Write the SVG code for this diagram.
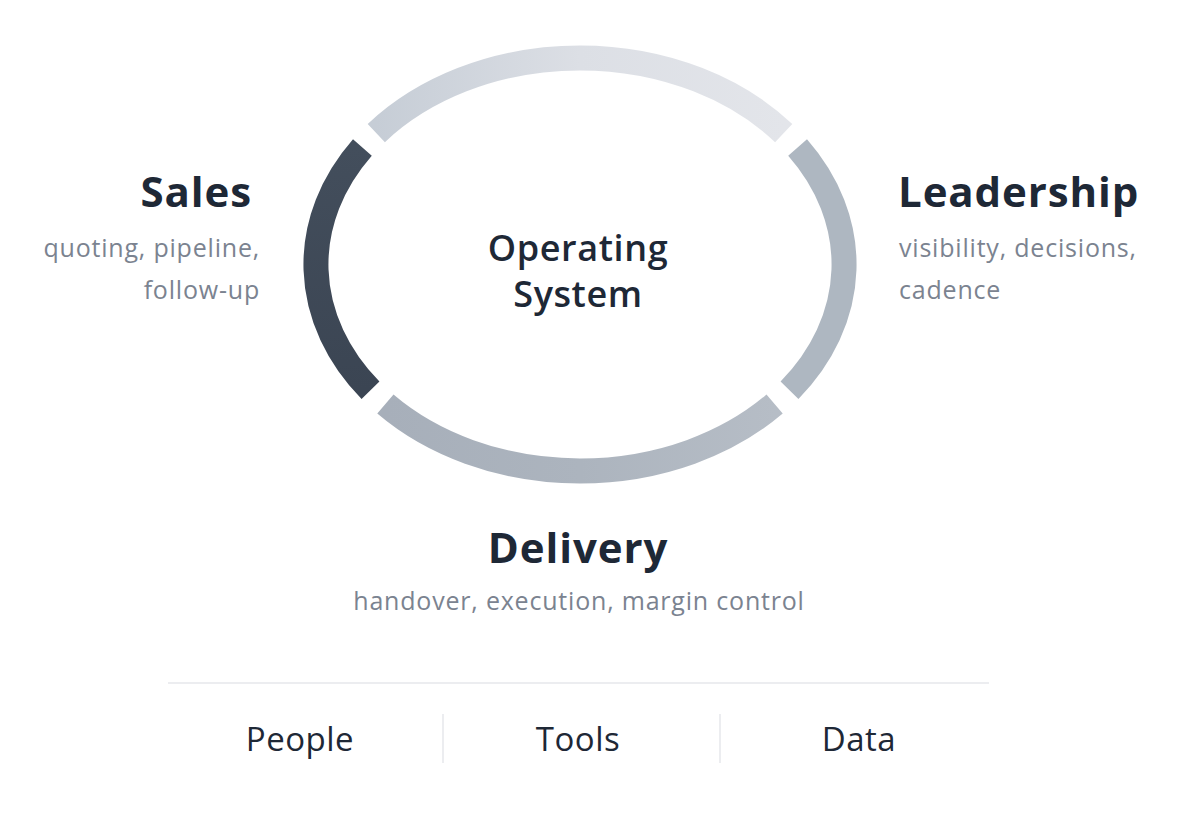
<svg xmlns="http://www.w3.org/2000/svg" width="1192" height="817" viewBox="0 0 1192 817">
  <defs>
    <linearGradient id="gTop" x1="376" y1="0" x2="784" y2="0" gradientUnits="userSpaceOnUse">
      <stop offset="0" stop-color="#c6cdd6"/>
      <stop offset="0.5" stop-color="#dcdfe5"/>
      <stop offset="1" stop-color="#e3e5ea"/>
    </linearGradient>
    <linearGradient id="gLeft" x1="0" y1="147" x2="0" y2="390" gradientUnits="userSpaceOnUse">
      <stop offset="0" stop-color="#434e5c"/>
      <stop offset="1" stop-color="#3b4553"/>
    </linearGradient>
    <linearGradient id="gBottom" x1="385" y1="0" x2="775" y2="0" gradientUnits="userSpaceOnUse">
      <stop offset="0" stop-color="#a7afba"/>
      <stop offset="0.5" stop-color="#acb4be"/>
      <stop offset="1" stop-color="#b6bdc6"/>
    </linearGradient>
    <style>
      .arc { fill: none; stroke-width: 25; stroke-linecap: butt; }
      .head { font-family: "Open Sans", "Noto Sans", sans-serif; font-weight: 700; font-size: 42px; fill: #1e2836; letter-spacing: 0.9px; }
      .sub { font-family: "Open Sans", "Noto Sans", sans-serif; font-weight: 400; font-size: 25px; fill: #7b8390; letter-spacing: 0.8px; }
      .center { font-family: "Open Sans", "Noto Sans", sans-serif; font-weight: 600; font-size: 36px; fill: #1e2836; letter-spacing: 0.6px; }
      .pillar { font-family: "Open Sans", "Noto Sans", sans-serif; font-weight: 400; font-size: 33px; fill: #1e2836; letter-spacing: 0.5px; }
      .rule { stroke: #e6e7eb; stroke-width: 1.5; }
    </style>
  </defs>
  <rect width="1192" height="817" fill="#ffffff"/>

  <g id="connectors">
    <path id="arc-top" class="arc" stroke="url(#gTop)" d="M 783.7 133.1 A 264 206.5 0 0 0 376.3 133.1"/>
    <path id="arc-sales" class="arc" stroke="url(#gLeft)" d="M 362.4 147.5 A 264 206.5 0 0 0 370.5 390.2"/>
    <path id="arc-delivery" class="arc" stroke="url(#gBottom)" d="M 385.4 404 A 264 206.5 0 0 0 774.6 404"/>
    <path id="arc-leadership" class="arc" stroke="#aeb7c1" d="M 789.5 390.2 A 264 206.5 0 0 0 797.6 147.5"/>
  </g>

  <g id="node-core">
    <text class="center" x="578" y="261" text-anchor="middle">Operating</text>
    <text class="center" x="578" y="307" text-anchor="middle">System</text>
  </g>

  <g id="node-sales">
    <text class="head" x="252" y="207" text-anchor="end">Sales</text>
    <text class="sub" x="260" y="257" text-anchor="end">quoting, pipeline,</text>
    <text class="sub" x="260" y="299" text-anchor="end">follow-up</text>
  </g>

  <g id="node-leadership">
    <text class="head" x="898" y="207">Leadership</text>
    <text class="sub" x="899" y="257">visibility, decisions,</text>
    <text class="sub" x="899" y="299">cadence</text>
  </g>

  <g id="node-delivery">
    <text class="head" x="578" y="563" text-anchor="middle">Delivery</text>
    <text class="sub" x="579" y="610" text-anchor="middle">handover, execution, margin control</text>
  </g>

  <g id="foundation">
    <line class="rule" x1="168" y1="683" x2="989" y2="683"/>
    <line class="rule" x1="443" y1="714" x2="443" y2="763"/>
    <line class="rule" x1="720" y1="714" x2="720" y2="763"/>
    <text class="pillar" x="300" y="751" text-anchor="middle">People</text>
    <text class="pillar" x="578" y="751" text-anchor="middle">Tools</text>
    <text class="pillar" x="859" y="751" text-anchor="middle">Data</text>
  </g>
</svg>
